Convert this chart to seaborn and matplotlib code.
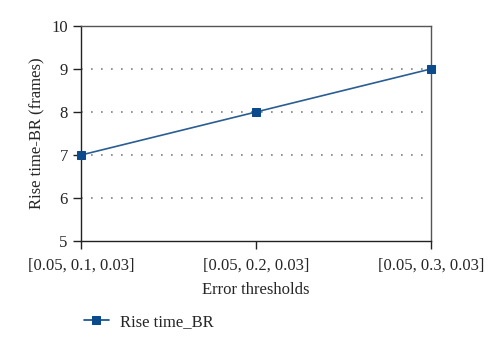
import matplotlib
matplotlib.use("Agg")
import matplotlib.pyplot as plt
import seaborn as sns
import pandas as pd

categories = ["[0.05, 0.1, 0.03]", "[0.05, 0.2, 0.03]", "[0.05, 0.3, 0.03]"]
rise_time_br = [7, 8, 9]
series_name = "Rise time_BR"
y_ticks = [5, 6, 7, 8, 9, 10]

sns.set_style("white")
plt.rcParams["font.family"] = ["Liberation Serif", "DejaVu Serif"]

df = pd.DataFrame({"pos": list(range(len(categories))), "val": rise_time_br, "series": series_name})

fig = plt.figure(figsize=(5, 3.45), dpi=100)
ax = fig.add_axes([0.162, 0.301, 0.7, 0.624])
color = "#0b4a8b"
sns.lineplot(data=df, x="pos", y="val", hue="series", palette=[color], marker="s",
             markersize=6, markeredgecolor=color, linewidth=1.2, ax=ax, legend=True)
ln = ax.lines[0]
ln.set_color("#2a5d93")
ln.set_markerfacecolor(color)
ln.set_markeredgecolor(color)
ln.set_clip_on(False)
ln.set_zorder(5)

ax.set_xlim(0, len(categories) - 1)
ax.set_ylim(y_ticks[0], y_ticks[-1])
ax.set_yticks(y_ticks)
ax.set_xticks(range(len(categories)))
ax.set_xticklabels(categories)
for y in y_ticks[1:-1]:
    ax.axhline(y, color="#808080", linestyle=(0, (1, 5)), linewidth=1.2, zorder=0)
for s in ax.spines.values():
    s.set_visible(True)
    s.set_color("#222222")
    s.set_linewidth(1.0)
    s.set_zorder(3)
ax.spines["top"].set_color("#555555")
ax.spines["right"].set_color("#555555")
ax.tick_params(axis="both", direction="out", length=6, width=1.0, color="#222222",
               labelsize=12, bottom=True, left=True)
ax.tick_params(axis="x", pad=6)
ax.set_xlabel("Error thresholds", fontsize=12, labelpad=6)
ax.set_ylabel("Rise time-BR (frames)", fontsize=12, labelpad=4)

h, l = ax.get_legend_handles_labels()
for hh in h:
    hh.set_markersize(6)
ax.legend(h, l, loc="upper left", bbox_to_anchor=(-0.035, -0.27), frameon=False,
          fontsize=12, handlelength=1.5, handletextpad=0.7)

fig.savefig("out.png", dpi=100)
